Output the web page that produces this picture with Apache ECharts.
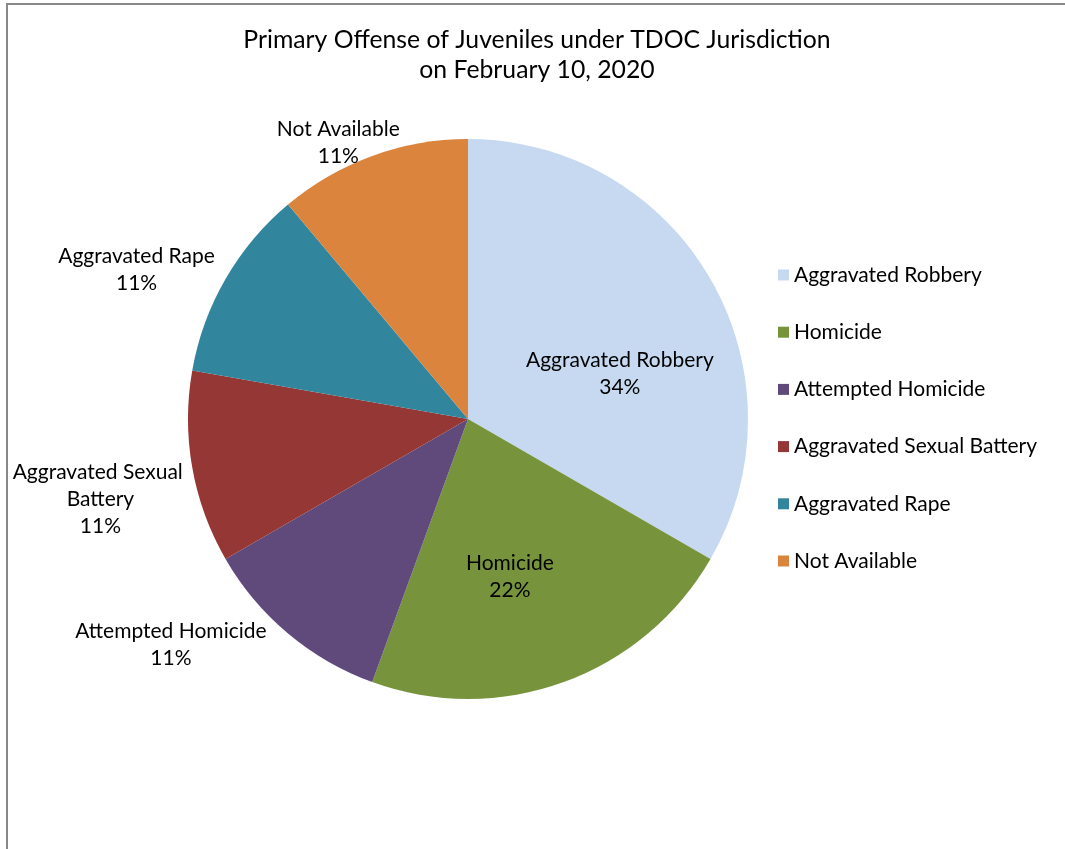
<!DOCTYPE html>
<html><head><meta charset="utf-8">
<script src="https://cdn.jsdelivr.net/npm/echarts@6/dist/echarts.min.js"></script>
<style>
html,body{margin:0;padding:0;overflow:hidden;background:#fff}
#chart{position:absolute;left:0;top:0;width:1065px;height:849px}
#frame{position:absolute;left:6px;top:3px;width:1200px;height:1000px;border:2px solid #898989;pointer-events:none}
</style></head><body>
<div id="chart"></div><div id="frame"></div>
<script>
const titleLines = ['Primary Offense of Juveniles under TDOC Jurisdiction', 'on February 10, 2020'];
const categories = ['Aggravated Robbery', 'Homicide', 'Attempted Homicide', 'Aggravated Sexual Battery', 'Aggravated Rape', 'Not Available'];
const values = [3, 2, 1, 1, 1, 1];

// style only
const colors = ['#C6D9F1', '#77933C', '#604A7B', '#953735', '#31859C', '#DA843E'];
const labelInside = [true, true, false, false, false, false];
const labelWrapWidth = [null, null, null, 200, null, null];
const labelNudge = [[28, 26], [-7, 23], [-10, 4], [23, 30], [3, -4], [36, -4]];

const FONT = 'Lato, "Open Sans", sans-serif';
const chart = echarts.init(document.getElementById('chart'), null, {renderer: 'canvas'});

const data = categories.map((name, i) => {
  const item = {
    name: name,
    value: values[i],
    itemStyle: {color: colors[i]},
    label: {position: labelInside[i] ? 'inside' : 'outside'}
  };
  if (labelWrapWidth[i]) { item.label.width = labelWrapWidth[i]; item.label.overflow = 'break'; }
  return item;
});

chart.setOption({
  backgroundColor: '#fff',
  animation: false,
  title: {
    text: titleLines.join('\n'),
    left: 537,
    top: 25,
    padding: 0,
    textAlign: 'center',
    textStyle: {fontFamily: FONT, fontSize: 24.75, fontWeight: 'normal', color: '#000', lineHeight: 30}
  },
  legend: {
    orient: 'vertical',
    left: 778,
    top: 263,
    padding: 0,
    itemWidth: 11,
    itemHeight: 11,
    itemGap: 33.2,
    icon: 'rect',
    data: categories,
    textStyle: {fontFamily: FONT, fontSize: 21, color: '#000', lineHeight: 24}
  },
  series: [{
    type: 'pie',
    center: [468, 419],
    radius: 280,
    startAngle: 90,
    clockwise: true,
    percentPrecision: 0,
    data: data,
    label: {
      show: true,
      formatter: '{b}\n{d}%',
      fontFamily: FONT,
      fontSize: 21,
      lineHeight: 27,
      color: '#000'
    },
    labelLine: {show: false, length: 10, length2: 0},
    labelLayout: function (p) {
      const n = labelNudge[p.dataIndex];
      const r = p.labelRect;
      return {x: r.x + r.width / 2 + n[0], y: r.y + r.height / 2 + n[1], align: 'center', verticalAlign: 'middle'};
    },
    emphasis: {disabled: true}
  }]
});
</script>
</body></html>
